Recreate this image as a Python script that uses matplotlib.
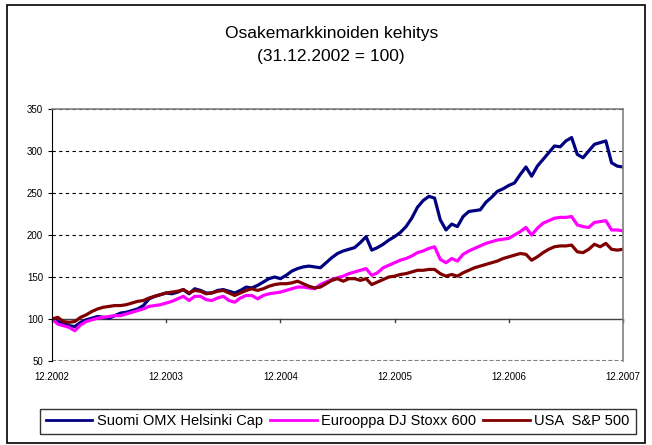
import matplotlib
matplotlib.use("Agg")
import matplotlib.pyplot as plt
from matplotlib.patches import Rectangle

plt.rcParams['font.family'] = ['Liberation Sans', 'DejaVu Sans']

# years since 31.12.2002
t = [0.00, 0.05, 0.10, 0.15, 0.20, 0.25, 0.30, 0.35, 0.40, 0.45,
     0.50, 0.55, 0.60, 0.65, 0.70, 0.75, 0.80, 0.85, 0.90, 0.95,
     1.00, 1.05, 1.10, 1.15, 1.20, 1.25, 1.30, 1.35, 1.40, 1.45,
     1.50, 1.55, 1.60, 1.65, 1.70, 1.75, 1.80, 1.85, 1.90, 1.95,
     2.00, 2.05, 2.10, 2.15, 2.20, 2.25, 2.30, 2.35, 2.40, 2.45,
     2.50, 2.55, 2.60, 2.65, 2.70, 2.75, 2.80, 2.85, 2.90, 2.95,
     3.00, 3.05, 3.10, 3.15, 3.20, 3.25, 3.30, 3.35, 3.40, 3.45,
     3.50, 3.55, 3.60, 3.65, 3.70, 3.75, 3.80, 3.85, 3.90, 3.95,
     4.00, 4.05, 4.10, 4.15, 4.20, 4.25, 4.30, 4.35, 4.40, 4.45,
     4.50, 4.55, 4.60, 4.65, 4.70, 4.75, 4.80, 4.85, 4.90, 4.95,
     5.00]

omx = [100, 97, 95, 92, 91, 96, 99, 101, 103, 102,
       101, 104, 107, 108, 110, 112, 116, 124, 127, 129,
       131, 130, 132, 135, 130, 136, 134, 131, 131, 134,
       135, 133, 131, 134, 138, 137, 140, 144, 148, 150,
       148, 152, 157, 160, 162, 163, 162, 161, 167, 173,
       178, 181, 183, 185, 191, 198, 182, 185, 189, 194,
       198, 203, 210, 220, 233, 241, 246, 244, 218, 206,
       213, 210, 222, 228, 229, 230, 239, 245, 252, 255,
       259, 262, 272, 281, 270, 282, 290, 298, 306, 305,
       312, 316, 296, 292, 300, 308, 310, 312, 286, 282,
       281]

stoxx = [100, 94, 92, 90, 86, 93, 97, 99, 101, 102,
         103, 104, 104, 106, 108, 110, 112, 115, 116, 117,
         119, 121, 124, 127, 122, 127, 127, 123, 122, 125,
         127, 122, 120, 125, 128, 128, 124, 128, 130, 131,
         132, 134, 136, 138, 138, 137, 136, 141, 144, 147,
         149, 151, 154, 156, 158, 160, 152, 155, 161, 164,
         167, 170, 172, 175, 179, 181, 184, 186, 171, 167,
         172, 169, 177, 181, 184, 187, 190, 192, 194, 195,
         196, 200, 204, 209, 200, 208, 214, 217, 220, 221,
         221, 222, 212, 210, 209, 215, 216, 217, 206, 206,
         205]

sp500 = [100, 102, 97, 96, 97, 102, 105, 109, 112, 114,
         115, 116, 116, 117, 119, 121, 122, 125, 127, 129,
         131, 132, 133, 135, 131, 134, 133, 130, 131, 133,
         134, 131, 128, 131, 134, 136, 134, 136, 139, 141,
         142, 142, 143, 145, 142, 139, 137, 138, 142, 146,
         148, 145, 148, 148, 146, 148, 141, 144, 147, 150,
         151, 153, 154, 156, 158, 158, 159, 159, 154, 151,
         153, 151, 155, 158, 161, 163, 165, 167, 169, 172,
         174, 176, 178, 177, 170, 174, 179, 183, 186, 187,
         187, 188, 180, 179, 183, 189, 186, 190, 183, 182,
         183]

names = ["Suomi OMX Helsinki Cap", "Eurooppa DJ Stoxx 600", "USA  S&P 500"]
tick_pos = [0, 1, 2, 3, 4, 5]
tick_labels = ["12.2002", "12.2003", "12.2004", "12.2005", "12.2006", "12.2007"]

fig = plt.figure(figsize=(6.52, 4.45), dpi=100)
ax = fig.add_axes([0.0798, 0.1888, 0.8757, 0.5662])

ax.plot(t, omx, color="#000080", linewidth=2.3, label=names[0])
ax.plot(t, stoxx, color="#FF00FF", linewidth=2.3, label=names[1])
ax.plot(t, sp500, color="#800000", linewidth=2.3, label=names[2])

ax.set_xlim(0, 5)
ax.set_ylim(50, 350)
ax.set_yticks(range(50, 351, 50))
for v in range(150, 351, 50):
    ax.axhline(v, color="black", linestyle=(0, (3, 3)), linewidth=0.8, zorder=0)
ax.axhline(100, color="#404040", linewidth=1.0, zorder=1)
ax.axhline(50, color="#808080", linestyle=(0, (2, 1)), linewidth=1.5, zorder=0)

for s in ["top", "right"]:
    ax.spines[s].set_color("#808080")
    ax.spines[s].set_linewidth(1.2)
ax.spines["bottom"].set_visible(False)
ax.spines["left"].set_color("black")

ax.tick_params(axis="y", labelsize=7, length=3, direction="out")
ax.set_xticks(tick_pos)
ax.set_xticklabels([])
ax.tick_params(axis="x", length=0)
for xp, lab in zip(tick_pos, tick_labels):
    ax.plot([xp, xp], [100, 96], color="#404040", linewidth=1.0, clip_on=False)
    ax.text(xp, 31, lab, ha="center", va="center", fontsize=7)

fig.text(0.508, 0.925, "Osakemarkkinoiden kehitys", ha="center", va="center", fontsize=12.5)
fig.text(0.508, 0.872, "(31.12.2002 = 100)", ha="center", va="center", fontsize=12.5)

leg = fig.legend(loc="center", bbox_to_anchor=(0.518, 0.053), ncol=3, fontsize=10.5,
                 frameon=True, fancybox=False, edgecolor="black", handlelength=3.2,
                 handletextpad=0.3, columnspacing=0.5, borderpad=0.4)
leg.get_frame().set_linewidth(1.0)
for line in leg.get_lines():
    line.set_linewidth(2.0)

fig.patches.append(Rectangle((0.011, 0.004), 0.978, 0.985, transform=fig.transFigure,
                             fill=False, edgecolor="black", linewidth=1.2))

fig.savefig("out.png", dpi=100)
